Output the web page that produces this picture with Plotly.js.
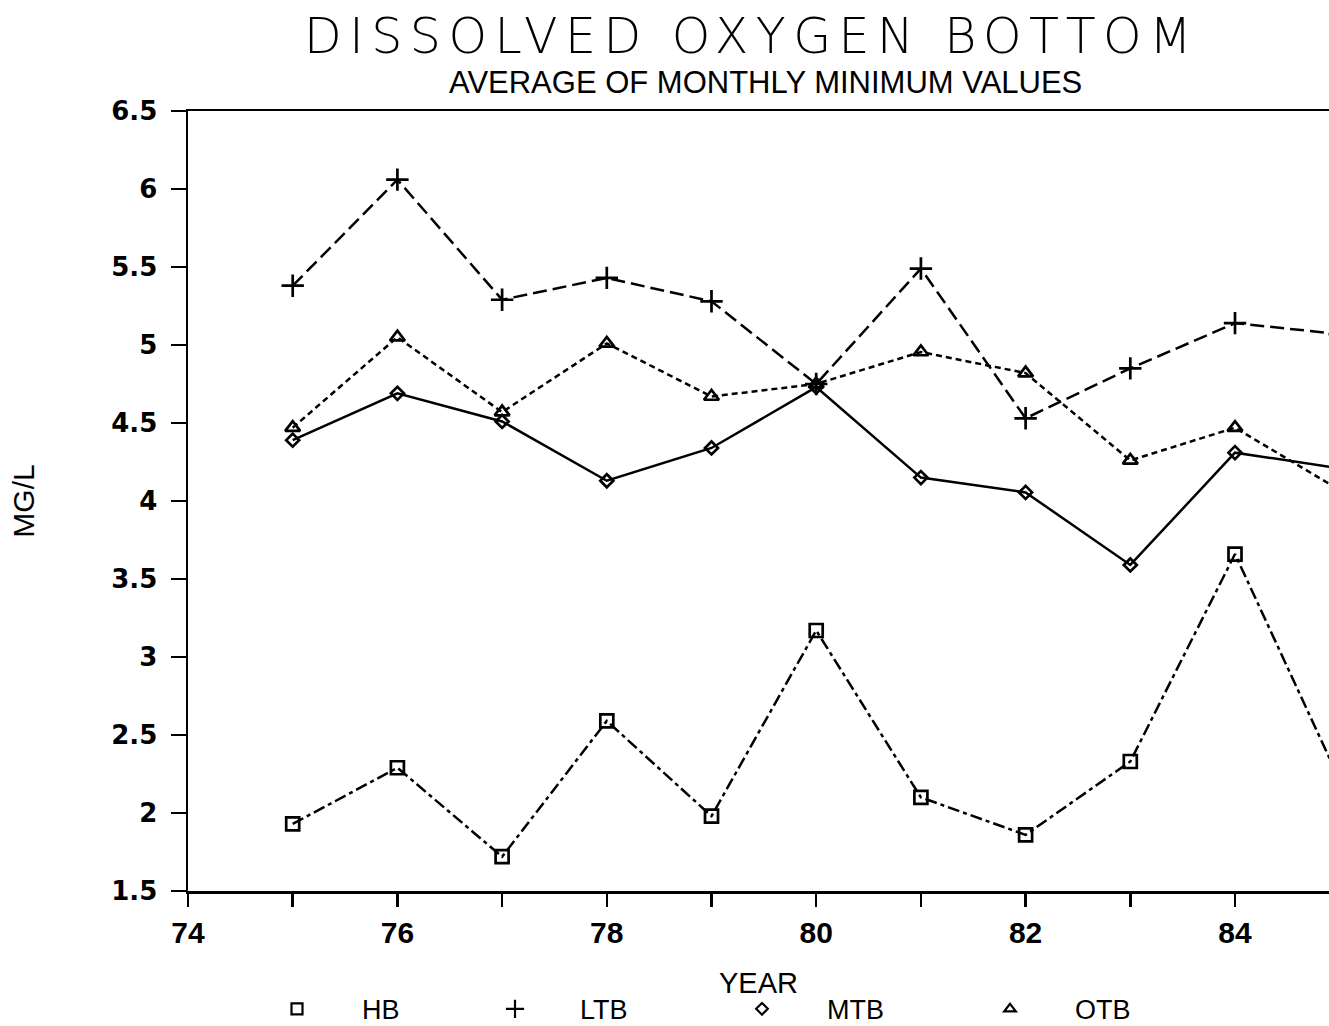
<!DOCTYPE html>
<html>
<head>
<meta charset="utf-8">
<script src="https://cdn.plot.ly/plotly-3.0.1.min.js"></script>
<style>html,body{margin:0;padding:0;background:#fff;}#chart{width:1329px;height:1026px;}</style>
</head>
<body>
<div id="chart"></div>
<script>
// ---- data ----
const years = [75, 76, 77, 78, 79, 80, 81, 82, 83, 84, 85];
const hb  = [1.93, 2.29, 1.72, 2.59, 1.98, 3.17, 2.10, 1.86, 2.33, 3.66, 2.21];
const ltb = [5.38, 6.06, 5.29, 5.43, 5.28, 4.75, 5.49, 4.53, 4.85, 5.14, 5.07];
const mtb = [4.39, 4.69, 4.51, 4.13, 4.34, 4.73, 4.15, 4.055, 3.59, 4.31, 4.21];
const otb = [4.47, 5.05, 4.57, 5.01, 4.67, 4.75, 4.955, 4.82, 4.26, 4.47, 4.07];
const seriesNames = ['HB', 'LTB', 'MTB', 'OTB'];
const xTickVals = [74, 75, 76, 77, 78, 79, 80, 81, 82, 83, 84];
const xTickText = ['74', '', '76', '', '78', '', '80', '', '82', '', '84'];
const yTickVals = [1.5, 2, 2.5, 3, 3.5, 4, 4.5, 5, 5.5, 6, 6.5];
const yTickText = ['1.5', '2', '2.5', '3', '3.5', '4', '4.5', '5', '5.5', '6', '6.5'];
const titleText = 'DISSOLVED OXYGEN BOTTOM';
const subtitleText = 'AVERAGE OF MONTHLY MINIMUM VALUES';
const xTitle = 'YEAR';
const yTitle = 'MG/L';

// ---- styles ----
const W = 1329, H = 1026;
const L = 188, R = 0, T = 110.5, B = H - 890.7;
const pw = W - L - R, ph = H - T - B;
const px2x = p => (p - L) / pw;
const py2y = p => (H - B - p) / ph;

const styles = [
  {dash: '12px,4px,4px,4px', symbol: 'square-open', size: 13, lsize: 11},
  {dash: '14px,6px', symbol: 'cross-thin', size: 16, lsize: 13},
  {dash: 'solid', symbol: 'diamond-open', size: 10, lsize: 9},
  {dash: '6px,4px', symbol: 'triangle-up-open', size: 13, lsize: 10}
];
const values = [hb, ltb, mtb, otb];
const legendX = [297, 515, 762, 1010];

const traces = [];
values.forEach((v, i) => {
  const s = styles[i];
  traces.push({
    x: years, y: v, name: seriesNames[i], type: 'scatter', mode: 'lines+markers',
    showlegend: false,
    line: {color: '#000', width: 2.5, dash: s.dash},
    marker: {symbol: s.symbol, size: s.size, color: '#000', line: {color: '#000', width: 2.7}}
  });
});
values.forEach((v, i) => {
  const s = styles[i];
  traces.push({
    x: [null], y: [null], name: seriesNames[i], type: 'scatter', mode: 'markers',
    showlegend: true, legend: i === 0 ? 'legend' : 'legend' + (i + 1),
    marker: {symbol: s.symbol, size: s.lsize, color: '#000', line: {color: '#000', width: 2.2}}
  });
});

const legendBase = (i) => ({
  x: px2x(legendX[i] - 65), xanchor: 'left', xref: 'paper',
  y: py2y(1009), yanchor: 'middle', yref: 'paper',
  orientation: 'h', bgcolor: 'rgba(0,0,0,0)', borderwidth: 0,
  itemwidth: 120,
  font: {family: 'Liberation Sans, Arial, sans-serif', size: 27, color: '#000'}
});

const layout = {
  width: W, height: H,
  margin: {l: L, r: R, t: T, b: B, pad: 0, autoexpand: false},
  paper_bgcolor: '#fff', plot_bgcolor: '#fff',
  title: {
    text: '<span style="letter-spacing:7.5px">' + titleText + '</span>',
    font: {family: 'DejaVu Sans, sans-serif', size: 49, color: '#000', weight: 200},
    xref: 'paper', x: px2x(751.5), xanchor: 'center',
    yref: 'container', y: 1 - 36 / H, yanchor: 'middle'
  },
  annotations: [{
    text: subtitleText, showarrow: false,
    xref: 'paper', yref: 'paper', x: px2x(765), y: py2y(82),
    xanchor: 'center', yanchor: 'middle',
    font: {family: 'Liberation Sans, Arial, sans-serif', size: 31, color: '#000'}
  }],
  xaxis: {
    range: [74, 74 + pw / 104.7], showgrid: false, zeroline: false,
    showline: true, linecolor: '#000', linewidth: 2.5, mirror: true,
    ticks: 'outside', ticklen: 13, tickwidth: 2.5, tickcolor: '#000',
    tickmode: 'array', tickvals: xTickVals, ticktext: xTickText,
    tickfont: {family: 'Liberation Sans, Arial, sans-serif', size: 30, color: '#000', weight: 'bold'},
    title: {text: xTitle, standoff: 25, font: {family: 'Liberation Sans, Arial, sans-serif', size: 29, color: '#000'}},
    automargin: false
  },
  yaxis: {
    range: [1.5, 6.5], showgrid: false, zeroline: false,
    showline: true, linecolor: '#000', linewidth: 2.5,
    ticks: 'outside', ticklen: 15, tickwidth: 2.5, tickcolor: '#000',
    tickmode: 'array', tickvals: yTickVals, ticktext: yTickText,
    ticklabelstandoff: 8,
    tickfont: {family: 'DejaVu Sans, sans-serif', size: 26, color: '#000', weight: 'bold'},
    title: {text: yTitle, standoff: 68, font: {family: 'Liberation Sans, Arial, sans-serif', size: 30, color: '#000'}},
    automargin: false
  },
  legend: legendBase(0),
  legend2: legendBase(1),
  legend3: legendBase(2),
  legend4: legendBase(3)
};

Plotly.newPlot('chart', traces, layout, {displayModeBar: false, staticPlot: true});
</script>
</body>
</html>
